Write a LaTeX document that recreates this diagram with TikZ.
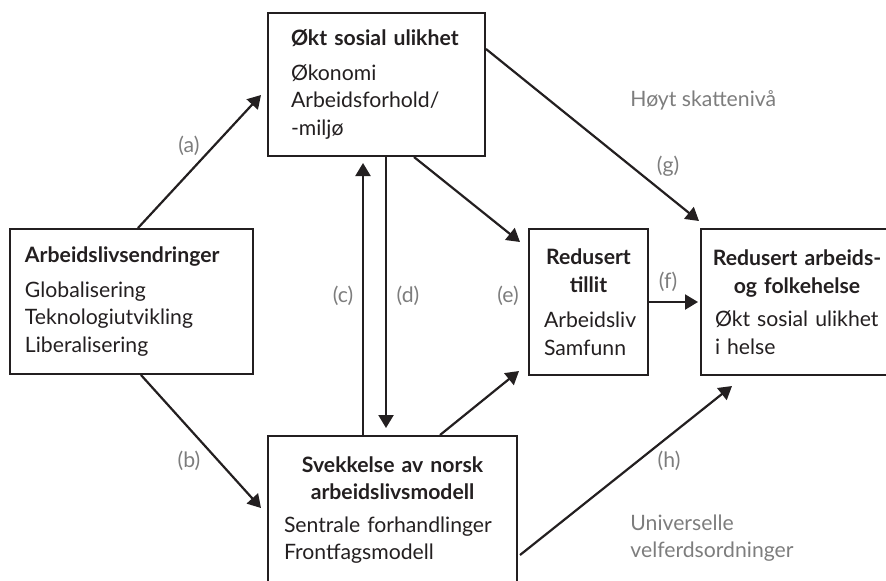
\documentclass[tikz,border=0pt]{standalone}
\usepackage{xcolor}
\usepackage{fontspec}
\setmainfont{Lato}
\usepackage{tikz}
\usetikzlibrary{calc, arrows.meta}
\definecolor{ink}{HTML}{231F20}
\definecolor{labelgray}{HTML}{7D7D7D}

\begin{document}
\begin{tikzpicture}[x=0.5pt, y=-0.5pt,
font=\fontsize{10.6}{13.75}\selectfont,
box/.style={draw=ink, line width=1pt, text=ink, rectangle, inner ysep=0pt},
lbl/.style={text=labelgray, inner sep=0pt},
arr/.style={draw=ink, line width=1.1pt, -{Triangle[width=7.5pt,length=6.5pt]}}
]

\clip (0,0) rectangle (886,580);

% boxes
\node[box, minimum width=121.5pt, minimum height=72.5pt, inner xsep=7.5pt, text width=106.5pt]
  (arb) at (131.5,301.5) {\raggedright{\bfseries Arbeidslivsendringer\par}\vspace{3.5pt}
  Globalisering\\Teknologiutvikling\\Liberalisering\par};

\node[box, minimum width=108.5pt, minimum height=71.5pt, inner xsep=11.5pt, text width=85.5pt]
  (okt) at (376.5,84.5) {\raggedright{\bfseries \mbox{Økt sosial ulikhet}\par}\vspace{3.5pt}
  Økonomi\\Arbeidsforhold/\\-miljø\par};

\node[box, minimum width=124.5pt, minimum height=74pt, inner xsep=8pt, text width=108.5pt]
  (svek) at (392.5,510) {{\centering\bfseries Svekkelse av norsk\\arbeidslivsmodell\par}\vspace{2.5pt}
  \raggedright \mbox{Sentrale forhandlinger}\\Frontfagsmodell\par};

\node[box, minimum width=59.5pt, minimum height=73pt, inner xsep=7.5pt, text width=44.5pt]
  (til) at (588.5,302) {{\centering\bfseries Redusert\\tillit\par}\vspace{4pt}
  \raggedright Arbeidsliv\\Samfunn\par};

\node[box, minimum width=96pt, minimum height=73pt, inner xsep=4pt, text width=88pt]
  (arbh) at (797,302) {{\centering\bfseries Redusert arbeids-\\og folkehelse\par}\vspace{3pt}
  \raggedright\hspace*{3pt}\mbox{Økt sosial ulikhet}\\\hspace*{3pt}i helse\par};

% connectors
\draw[arr] ($(arb.north)+(6.5,0)$) -- ($(okt.south west)+(-6,-62)$);
\draw[arr] ($(arb.south)+(9.5,0)$) -- ($(svek.north west)+(-6,73)$);
\draw[arr] ($(svek.north west)+(96,0)$) -- ($(okt.south west)+(96,6)$);
\draw[arr] ($(okt.south west)+(119,0)$) -- ($(svek.north west)+(119,-7)$);
\draw[arr] ($(okt.south west)+(147,0)$) -- ($(til.north west)+(-8,14)$);
\draw[arr] ($(svek.north west)+(173,0)$) -- ($(til.south west)+(-9,-5)$);
\draw[arr] (til.east) -- ($(arbh.west)+(-2,0)$);
\draw[arr] ($(okt.north east)+(0,37)$) -- ($(arbh.north west)+(-1,-7)$);
\draw[arr] ($(svek.north east)+(2,120)$) -- ($(arbh.south west)+(32,10)$);

% labels
\node[lbl] (la) at (189,146) {(a)};
\node[lbl] (lb) at (189,461) {(b)};
\node[lbl] (lc) at (343,296) {(c)};
\node[lbl] (ld) at (408,296) {(d)};
\node[lbl] (le) at (508,296) {(e)};
\node[lbl] (lf) at (668,282) {(f)};
\node[lbl] (lg) at (668,166) {(g)};
\node[lbl] (lh) at (669,461) {(h)};
\node[lbl, anchor=west] (skatt) at (630,100) {Høyt skattenivå};
\node[lbl, anchor=west, align=left] (velferd) at (630,538) {Universelle\\velferdsordninger};
\end{tikzpicture}
\end{document}
